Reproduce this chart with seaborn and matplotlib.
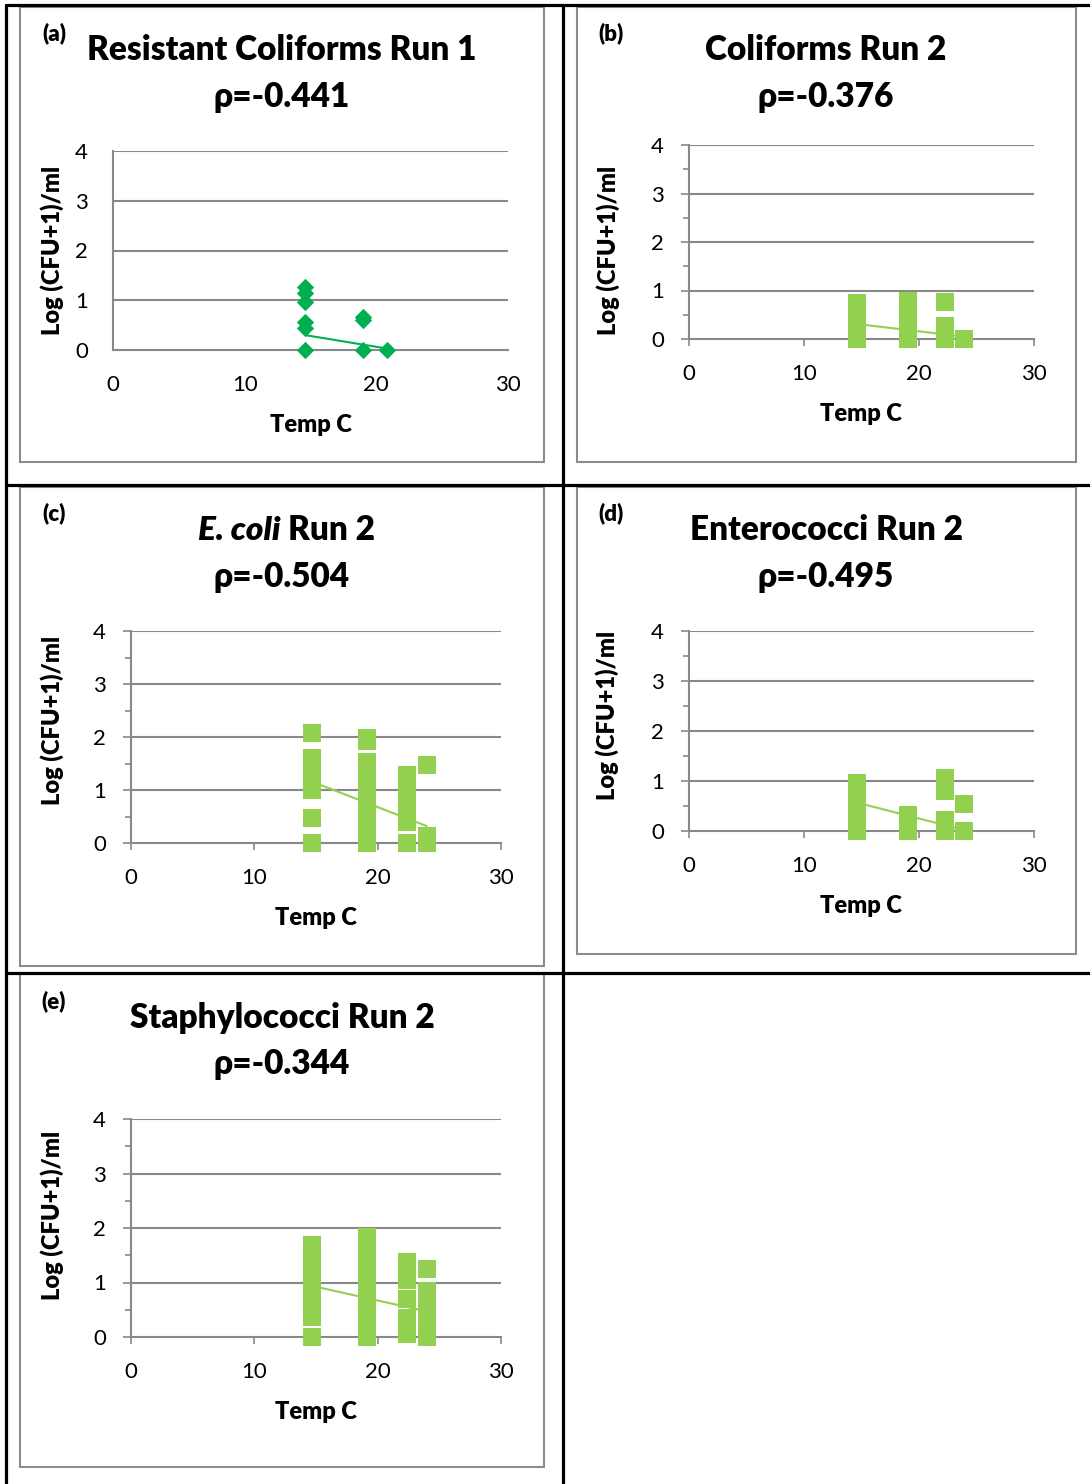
import numpy as np
import pandas as pd
import matplotlib
matplotlib.use("Agg")
import matplotlib.pyplot as plt
import seaborn as sns
from matplotlib.lines import Line2D
from matplotlib.patches import Rectangle
from matplotlib.ticker import MultipleLocator

sns.set_theme(style="white")
plt.rcParams['font.family'] = ['Lato', 'DejaVu Sans']
plt.rcParams['text.color'] = 'black'

# ---------------- data ----------------
a_temp = [14.58] * 6 + [19.0] * 3 + [20.78]
a_log = [0, 0.44, 0.56, 0.97, 1.14, 1.27, 0, 0.60, 0.66, 0]
a_trend_x = [14.58, 20.78]
a_trend_y = [0.30, 0.03]

b_temp = [14.57] * 5 + [19.07] * 5 + [22.3] * 3 + [23.9]
b_log = [0, 0.2, 0.4, 0.6, 0.75, 0, 0.2, 0.4, 0.6, 0.78, 0, 0.26, 0.77, 0]
b_trend_x = [14.57, 23.9]
b_trend_y = [0.31, 0.05]

c_temp = [14.64] * 7 + [19.1] * 9 + [22.34] * 6 + [23.97] * 3
c_log = [0, 0.48, 1.0, 1.2, 1.4, 1.61, 2.08,
         0, 0.25, 0.5, 0.75, 1.0, 1.25, 1.53, 1.92, 1.99,
         0, 0.39, 0.6, 0.8, 1.0, 1.29,
         0, 0.14, 1.48]
c_trend_x = [14.64, 23.97]
c_trend_y = [1.16, 0.32]

d_temp = [14.57] * 5 + [19.07] * 3 + [22.3] * 4 + [23.9] * 2
d_log = [0, 0.25, 0.5, 0.75, 0.97, 0, 0.17, 0.33, 0, 0.23, 0.81, 1.07, 0, 0.55]
d_trend_x = [14.57, 23.9]
d_trend_y = [0.57, 0.02]

e_temp = [14.64] * 7 + [19.1] * 7 + [22.34] * 5 + [23.97] * 5
e_log = [0, 0.37, 0.6, 0.85, 1.1, 1.35, 1.69,
         0, 0.3, 0.6, 0.9, 1.2, 1.5, 1.83,
         0.05, 0.35, 0.7, 1.05, 1.38,
         0, 0.28, 0.56, 0.84, 1.24]
e_trend_x = [14.64, 23.97]
e_trend_y = [0.94, 0.47]

panel_letters = ["(a)", "(b)", "(c)", "(d)", "(e)"]
titles = ["Resistant Coliforms Run 1", "Coliforms Run 2", None, "Enterococci Run 2", "Staphylococci Run 2"]
rhos = ["ρ=-0.441", "ρ=-0.376", "ρ=-0.504", "ρ=-0.495", "ρ=-0.344"]
x_ticks = [0, 10, 20, 30]
y_ticks = [0, 1, 2, 3, 4]
x_label = "Temp C"
y_label = "Log (CFU+1)/ml"

# ---------------- layout ----------------
W, H = 1090, 1484
fig = plt.figure(figsize=(W / 100, H / 100), dpi=100)

def fx(x):
    return x / W

def fy(y):
    return 1 - y / H

GRAY = "#898989"
GREEN_DARK = "#00B050"
GREEN = "#92D050"

# table lines (black)
for (x0, y0, x1, y1) in [(6, 5, 1090, 5), (6, 485, 1090, 485), (6, 973, 1090, 973),
                         (6, 5, 6, 1484), (563, 5, 563, 1484)]:
    fig.add_artist(Line2D([fx(x0), fx(x1)], [fy(y0), fy(y1)], color="black", lw=2.3,
                          transform=fig.transFigure))

# chart boxes (gray)
for (l, t, r, b) in [(20, 7, 544, 462), (577, 7, 1076, 462), (20, 487, 544, 966),
                     (577, 487, 1076, 954), (20, 974, 544, 1467)]:
    fig.add_artist(Rectangle((fx(l), fy(b)), fx(r) - fx(l), fy(t) - fy(b), fill=False,
                             edgecolor="#8c8c8c", lw=1.5, transform=fig.transFigure))

panels = [
    dict(box=(113, 151, 508, 350), temp=a_temp, log=a_log, tx=a_trend_x, ty=a_trend_y,
         marker="D", s=78, color=GREEN_DARK, ticks=False,
         letter=(54, 33), title=(282, 50), rho=(282, 97), ylab=(52, 250), xlab=(311, 425)),
    dict(box=(689, 145, 1034, 339), temp=b_temp, log=b_log, tx=b_trend_x, ty=b_trend_y,
         marker="s", s=187, color=GREEN, ticks=True,
         letter=(611, 33), title=(826, 50), rho=(826, 97), ylab=(608, 250), xlab=(861, 414)),
    dict(box=(131, 631, 501, 843), temp=c_temp, log=c_log, tx=c_trend_x, ty=c_trend_y,
         marker="s", s=187, color=GREEN, ticks=True,
         letter=(54, 513), title=(282, 530), rho=(282, 577), ylab=(52, 720), xlab=(316, 918)),
    dict(box=(689, 631, 1034, 831), temp=d_temp, log=d_log, tx=d_trend_x, ty=d_trend_y,
         marker="s", s=187, color=GREEN, ticks=True,
         letter=(611, 513), title=(826, 530), rho=(826, 577), ylab=(607, 715), xlab=(861, 906)),
    dict(box=(131, 1119, 501, 1337), temp=e_temp, log=e_log, tx=e_trend_x, ty=e_trend_y,
         marker="s", s=187, color=GREEN, ticks=True,
         letter=(54, 1001), title=(282, 1018), rho=(282, 1064), ylab=(52, 1215), xlab=(316, 1412)),
]

TITLE_FS = 24
TICK_FS = 16
LAB_FS = 17
W_BOLD = "heavy"

for i, p in enumerate(panels):
    l, t, r, b = p["box"]
    ax = fig.add_axes([fx(l), fy(b), fx(r) - fx(l), fy(t) - fy(b)])
    df = pd.DataFrame({"temp": p["temp"], "log": p["log"]})
    tr = pd.DataFrame({"temp": p["tx"], "log": p["ty"]})
    sns.lineplot(data=tr, x="temp", y="log", ax=ax, color=p["color"], lw=1.5, zorder=2)
    sns.scatterplot(data=df, x="temp", y="log", ax=ax, marker=p["marker"], s=p["s"],
                    color=p["color"], linewidth=0, clip_on=False, zorder=3)
    ax.set_xlim(0, 30)
    ax.set_ylim(0, 4)
    ax.set_xticks(x_ticks)
    ax.set_yticks(y_ticks)
    ax.set_xlabel("")
    ax.set_ylabel("")
    ax.set_axisbelow(True)
    ax.grid(False)
    for yv in y_ticks[1:]:
        ax.axhline(yv, color=GRAY, lw=1.5, zorder=0)
    for side in ["top", "right"]:
        ax.spines[side].set_visible(False)
    for side in ["left", "bottom"]:
        ax.spines[side].set_color(GRAY)
        ax.spines[side].set_linewidth(1.5)
        ax.spines[side].set_zorder(1)
    ax.set_facecolor("none")
    if p["ticks"]:
        ax.yaxis.set_minor_locator(MultipleLocator(0.5))
        ax.tick_params(axis="y", which="major", direction="out", length=6, width=1.2,
                       color=GRAY, pad=12, labelsize=TICK_FS, left=True)
        ax.tick_params(axis="y", which="minor", direction="out", length=4, width=1.2,
                       color=GRAY, left=True)
        ax.tick_params(axis="x", which="major", direction="out", length=5, width=1.2,
                       color=GRAY, pad=13, labelsize=TICK_FS, bottom=True)
    else:
        ax.tick_params(axis="both", length=0, labelsize=TICK_FS)
        ax.tick_params(axis="x", pad=18)
        ax.tick_params(axis="y", pad=18)
    for lab in ax.get_xticklabels() + ax.get_yticklabels():
        lab.set_color("black")

    # texts
    fig.text(fx(p["letter"][0]), fy(p["letter"][1]), panel_letters[i], ha="center", va="center",
             fontsize=16, fontweight=W_BOLD, color="black")
    if titles[i] is not None:
        fig.text(fx(p["title"][0]), fy(p["title"][1]), titles[i], ha="center", va="center",
                 fontsize=TITLE_FS, fontweight=W_BOLD, color="black")
    else:
        fig.text(fx(281), fy(p["title"][1]), "E. coli", ha="right", va="center",
                 fontsize=TITLE_FS, fontweight=W_BOLD, fontstyle="italic", color="black")
        fig.text(fx(288), fy(p["title"][1]), "Run 2", ha="left", va="center",
                 fontsize=TITLE_FS, fontweight=W_BOLD, color="black")
    fig.text(fx(p["rho"][0]), fy(p["rho"][1]), rhos[i], ha="center", va="center",
             fontsize=TITLE_FS, fontweight=W_BOLD, color="black")
    fig.text(fx(p["ylab"][0]), fy(p["ylab"][1]), y_label, ha="center", va="center",
             rotation=90, fontsize=LAB_FS, fontweight=W_BOLD, color="black")
    fig.text(fx(p["xlab"][0]), fy(p["xlab"][1]), x_label, ha="center", va="center",
             fontsize=LAB_FS, fontweight=W_BOLD, color="black")

fig.savefig("out.png", dpi=100, facecolor="white")
